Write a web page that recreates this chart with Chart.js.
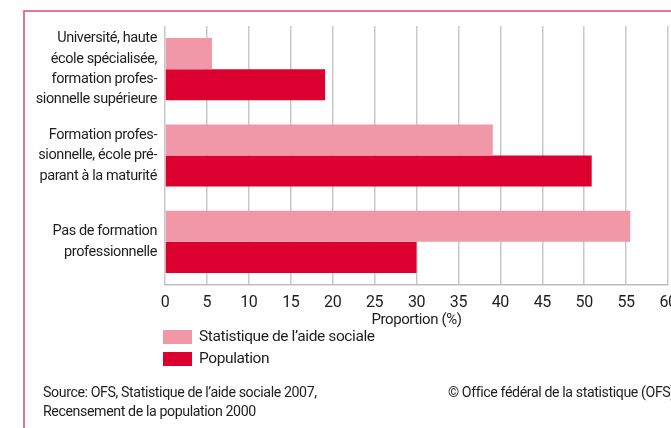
<!DOCTYPE html>
<html>
<head>
<meta charset="utf-8">
<script src="https://cdn.jsdelivr.net/npm/chart.js@4/dist/chart.umd.min.js"></script>
<style>
  html, body { margin: 0; padding: 0; background: #fff; overflow: hidden; }
  #wrap { width: 671px; height: 428px; overflow: hidden; }
  canvas { display: block; }
</style>
</head>
<body>
<div id="wrap"><canvas id="eduChart" width="700" height="428"></canvas></div>
<script>
// Niveau de formation: aide sociale vs population
const categories = [
    ['Université, haute', 'école spécialisée,', 'formation profes-', 'sionnelle supérieure'],
    ['Formation profes-', 'sionnelle, école pré-', 'parant à la maturité'],
    ['Pas de formation', 'professionnelle']
];
const aideSociale = [5.6, 39.1, 55.5];   // Statistique de l'aide sociale 2007
const population = [19.1, 50.9, 30.0];   // Recensement 2000
const seriesNames = ['Statistique de l\u2019aide sociale', 'Population'];
const xMin = 0, xMax = 60, xStep = 5;
const axisTitle = 'Proportion (%)';
const sourceLines = ['Source: OFS, Statistique de l\u2019aide sociale 2007,', 'Recensement de la population 2000'];
const copyright = '\u00a9 Office fédéral de la statistique (OFS)';

const FONT = 'Roboto, "Liberation Sans", sans-serif';
const TEXT = '#1e1e1e';

// the original uses a condensed face, so tighten the text a little
const tighten = {
    id: 'tighten',
    beforeUpdate(chart) { chart.ctx.letterSpacing = '-0.4px'; },
    beforeDraw(chart) { chart.ctx.letterSpacing = '-0.4px'; }
};

// frame, legend and source notes
const extras = {
    id: 'extras',
    afterDraw(chart) {
        const c = chart.ctx;
        c.save();
        c.strokeStyle = '#e5476a';
        c.lineWidth = 1.5;
        c.beginPath();
        c.moveTo(24, 428);
        c.lineTo(24, 11);
        c.lineTo(chart.width, 11);
        c.stroke();

        c.font = '15.5px ' + FONT;
        c.fillStyle = TEXT;
        c.textBaseline = 'middle';
        chart.data.datasets.forEach((ds, i) => {
            const y = 330 + i * 22;
            c.fillStyle = ds.backgroundColor;
            c.fillRect(163, y, 29, 14);
            c.fillStyle = TEXT;
            c.fillText(ds.label, 199, y + 7);
        });

        c.font = '14.2px ' + FONT;
        sourceLines.forEach((t, i) => c.fillText(t, 43, 393 + i * 19));
        c.fillText(copyright, 448, 393);
        c.restore();
    }
};

new Chart(document.getElementById('eduChart'), {
    type: 'bar',
    data: {
        labels: categories,
        datasets: [
            {
                label: seriesNames[0],
                data: aideSociale,
                backgroundColor: '#f098a8'
            },
            {
                label: seriesNames[1],
                data: population,
                backgroundColor: '#dc0030'
            }
        ]
    },
    options: {
        indexAxis: 'y',
        responsive: false,
        animation: false,
        layout: { padding: { top: 26, left: 0, right: 32, bottom: 99 } },
        datasets: { bar: { barPercentage: 1, categoryPercentage: 0.72 } },
        plugins: {
            legend: { display: false },
            tooltip: { enabled: false }
        },
        scales: {
            x: {
                min: xMin,
                max: xMax,
                afterFit(scale) { scale.height = 44; },
                ticks: {
                    stepSize: xStep,
                    padding: 8,
                    color: TEXT,
                    font: { family: FONT, size: 16 }
                },
                grid: { color: '#c8c8c8', lineWidth: 1.5, drawTicks: false },
                border: { color: '#bdbdbd', width: 1.5 },
                title: {
                    display: true,
                    text: axisTitle,
                    color: TEXT,
                    font: { family: FONT, size: 15 },
                    padding: { top: 2, bottom: 0 }
                }
            },
            y: {
                afterFit(scale) {
                    scale.width = 165;
                    scale.paddingTop = 0;
                    scale.paddingBottom = 0;
                },
                ticks: {
                    autoSkip: false,
                    padding: 8,
                    color: TEXT,
                    font: { family: FONT, size: 14.5, lineHeight: 1.41 }
                },
                grid: { display: false, drawTicks: false },
                border: { display: false }
            }
        }
    },
    plugins: [tighten, extras]
});
</script>
</body>
</html>
